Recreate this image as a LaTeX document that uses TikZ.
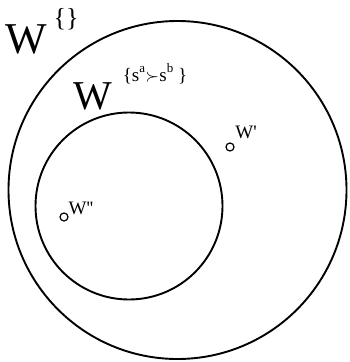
\documentclass[tikz,border=0pt]{standalone}
\usepackage{fontspec}
\setmainfont{Liberation Serif}
\usepackage{amssymb}
\usepackage{tikz}
\usetikzlibrary{positioning}

\begin{document}
\begin{tikzpicture}[x=1pt,y=-1pt]
    % Styles for sets, points and labels
    \tikzset{
      setcircle/.style={circle, draw=black, line width=1.9pt, inner sep=0pt},
      worldpt/.style={circle, draw=black, line width=1.2pt, inner sep=0pt, minimum size=8pt},
      biglabel/.style={inner sep=0pt, font=\fontsize{44}{44}\selectfont},
      suplabel/.style={inner sep=0pt, font=\fontsize{26}{26}\selectfont},
      ptlabel/.style={inner sep=0pt, font=\fontsize{19}{19}\selectfont}
    }
    \useasboundingbox (0,0) rectangle (349,362);

    % Sets with explicit coordinates
    \node[setcircle, minimum size=338pt] (Wall) at (177.5,190) {};
    \node[setcircle, minimum size=187pt] (Wab) at (129,206) {};

    % Set names
    \node[biglabel] (WallName) at (26,39) {W};
    \node[suplabel] (WallSup) at (66,19) {\{\}};
    \node[biglabel, font=\fontsize{41}{41}\selectfont] (WabName) at (92.5,96) {W};
    \node[inner sep=0pt, font=\fontsize{19}{19}\selectfont] (WabSup) at (155,74)
      {\{s\raisebox{1.0ex}{\fontsize{13}{13}\selectfont a}\kern0.5pt$\succ$\kern0.5pt s\raisebox{1.0ex}{\fontsize{13}{13}\selectfont b}\ \}};

    % Worlds
    \node[worldpt] (w1) at (230,147) {};
    \node[ptlabel] (w1name) at (246,132) {W\textquotesingle};
    \node[worldpt] (w2) at (64,217) {};
    \node[ptlabel] (w2name) at (81,208) {W\textquotesingle\textquotesingle};

\end{tikzpicture}
\end{document}
